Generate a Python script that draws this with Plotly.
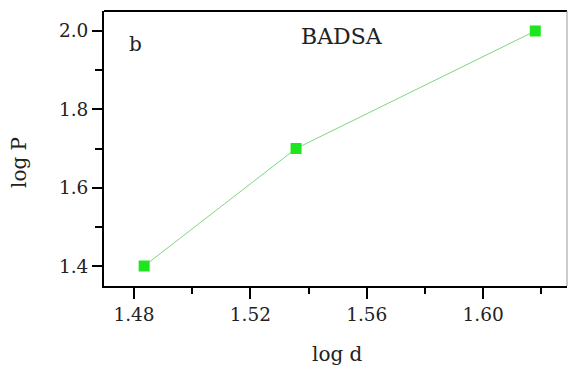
import plotly.graph_objects as go

log_d = [1.4835, 1.5357, 1.6179]
log_P = [1.40, 1.70, 2.00]
x_ticks = [1.48, 1.52, 1.56, 1.60]
y_ticks = [1.4, 1.6, 1.8, 2.0]
x_title = "log d"
y_title = "log P"
panel_label = "b"
series_label = "BADSA"

font_family = "DejaVu Serif"
W, H = 569, 371
L, R, T, B = 104, 2, 11, 85
pw, ph = W - L - R, H - T - B

def px_x(x):
    return (x - L) / pw

def px_y(y):
    return (H - B - y) / ph

fig = go.Figure()
fig.add_trace(go.Scatter(
    x=log_d, y=log_P, mode="lines+markers",
    line=dict(color="#7fd67f", width=1),
    marker=dict(symbol="square", size=11, color="#1ee61e"),
    showlegend=False,
))

fig.update_layout(
    width=W, height=H,
    margin=dict(l=L, r=R, t=T, b=B),
    paper_bgcolor="white", plot_bgcolor="white",
    font=dict(family=font_family, size=18.5, color="#222"),
    xaxis=dict(
        range=[1.4697, 1.6288], tickvals=x_ticks,
        ticktext=[f"{v:.2f}" for v in x_ticks],
        showgrid=False, zeroline=False,
        showline=True, linecolor="black", linewidth=2,
        ticks="outside", ticklen=11, tickwidth=2, tickcolor="black",
        minor=dict(tickvals=[1.50, 1.54, 1.58, 1.62], ticks="outside",
                   ticklen=6, tickwidth=2, tickcolor="black"),
    ),
    yaxis=dict(
        range=[1.349, 2.051], tickvals=y_ticks,
        ticktext=[f"{v:.1f}" for v in y_ticks],
        showgrid=False, zeroline=False,
        showline=True, linecolor="black", linewidth=2,
        ticks="outside", ticklen=10, tickwidth=2, tickcolor="black",
        minor=dict(tickvals=[1.5, 1.7, 1.9], ticks="outside",
                   ticklen=7, tickwidth=2, tickcolor="black"),
    ),
    shapes=[
        dict(type="line", xref="paper", yref="paper", x0=0, x1=1, y0=1, y1=1,
             line=dict(color="black", width=2)),
        dict(type="line", xref="paper", yref="paper", x0=1, x1=1, y0=0, y1=1,
             line=dict(color="#999", width=1)),
    ],
    annotations=[
        dict(text=panel_label, xref="paper", yref="paper", x=px_x(135), y=px_y(44),
             showarrow=False, xanchor="center", yanchor="middle",
             font=dict(size=20, color="#222")),
        dict(text=series_label, xref="paper", yref="paper", x=px_x(341.5), y=px_y(36),
             showarrow=False, xanchor="center", yanchor="middle",
             font=dict(size=22, color="#222")),
        dict(text=x_title, xref="paper", yref="paper", x=px_x(337), y=px_y(354),
             showarrow=False, xanchor="center", yanchor="middle",
             font=dict(size=20, color="#222")),
        dict(text=y_title, xref="paper", yref="paper", x=px_x(19), y=px_y(163),
             showarrow=False, xanchor="center", yanchor="middle", textangle=-90,
             font=dict(size=20, color="#222")),
    ],
)

fig.write_html("out.html")
